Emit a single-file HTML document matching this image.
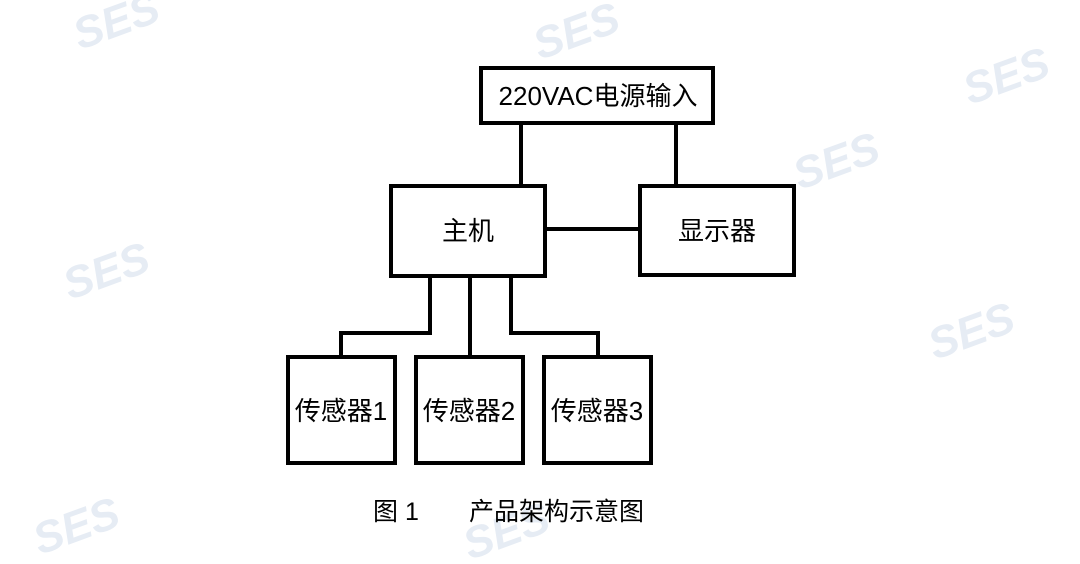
<!DOCTYPE html>
<html><head><meta charset="utf-8"><style>
html,body{margin:0;padding:0;background:#fff;width:1080px;height:564px;overflow:hidden}
</style></head><body>
<svg width="1080" height="564" viewBox="0 0 1080 564" xmlns="http://www.w3.org/2000/svg">
<g font-family="Liberation Sans, Noto Sans CJK SC, sans-serif" font-weight="bold" font-size="44" fill="#e6ecf4" font-style="italic">
<text x="80" y="50" transform="rotate(-20 80 50)">SES</text>
<text x="540" y="60" transform="rotate(-20 540 60)">SES</text>
<text x="970" y="105" transform="rotate(-20 970 105)">SES</text>
<text x="70" y="300" transform="rotate(-20 70 300)">SES</text>
<text x="935" y="360" transform="rotate(-20 935 360)">SES</text>
<text x="40" y="555" transform="rotate(-20 40 555)">SES</text>
<text x="470" y="560" transform="rotate(-20 470 560)">SES</text>
<text x="800" y="190" transform="rotate(-20 800 190)">SES</text>
</g>
<g fill="none" stroke="#000" stroke-width="4">
<rect x="481" y="68" width="232" height="55"/>
<rect x="391" y="186" width="154" height="90"/>
<rect x="640" y="186" width="154" height="89"/>
<rect x="288" y="357" width="107" height="106"/>
<rect x="416" y="357" width="107" height="106"/>
<rect x="544" y="357" width="107" height="106"/>
<path d="M521 123V186M676 123V186M545 229H640"/>
<path d="M430 276V333H341V357M470 276V357M511 276V333H598V357"/>
</g>
<g font-family="Liberation Sans, Noto Sans CJK SC, sans-serif" font-size="26" fill="#000" text-anchor="middle">
<text x="598" y="105">220VAC电源输入</text>
<text x="468" y="240">主机</text>
<text x="717" y="240">显示器</text>
<text x="341" y="420">传感器1</text>
<text x="469" y="420">传感器2</text>
<text x="597" y="420">传感器3</text>
</g>
<g font-family="Liberation Sans, Noto Sans CJK SC, sans-serif" font-size="25" fill="#000">
<text x="373" y="520">图 1</text>
<text x="469" y="520">产品架构示意图</text>
</g>
</svg>
</body></html>
